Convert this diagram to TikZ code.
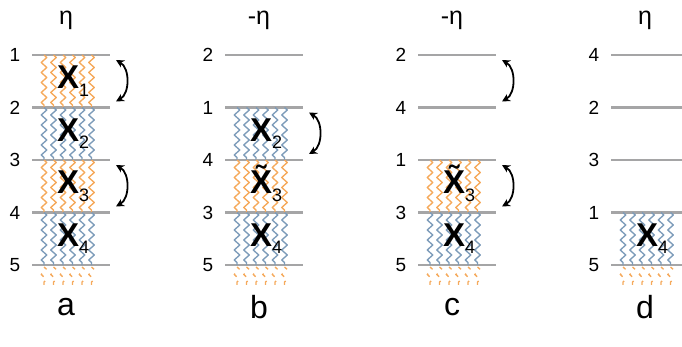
\documentclass[tikz,border=0pt]{standalone}
\usepackage{fontspec}
\setmainfont{Liberation Sans}
\usetikzlibrary{arrows.meta,decorations.pathmorphing}
\definecolor{wavyor}{HTML}{F5A95B}
\definecolor{wavybl}{HTML}{7C9BB9}
\definecolor{levgray}{HTML}{A5A5A6}

% one block of six wavy strands between two heights
\newcommand{\strands}[3]{%
  \foreach \dx in {0,9.5,...,48} \draw[wave,#3] (12+\dx,#1) -- (12+\dx,#2);}
% faded strands below the last level
\newcommand{\stubs}{%
  \foreach \dx in {0,9.5,...,48} \draw[stub] (12+\dx,267) -- (12+\dx,286);}
\newcommand{\xsub}[2]{\textbf{#1}\raisebox{-0.22em}{\fontsize{18}{18}\selectfont #2}}

\begin{document}
\begin{tikzpicture}[x=1pt, y=-1pt,
    level/.style={levgray, line width=2.8pt},
    wave/.style={line width=1.35pt, line join=round, decorate,
      decoration={zigzag, segment length=10pt, amplitude=2.8pt}},
    stub/.style={wave, wavyor, dash pattern=on 4.5pt off 6.5pt, dash phase=1pt},
    num/.style={inner sep=0pt, font=\fontsize{19}{19}\selectfont},
    eta/.style={inner sep=0pt, font=\fontsize{25}{25}\selectfont},
    panel/.style={inner sep=0pt, font=\fontsize{32}{32}\selectfont},
    xname/.style={inner sep=0pt, anchor=base west, font=\fontsize{33}{33}\selectfont},
    swap/.style={{Stealth[length=8pt,width=8pt]}-{Stealth[length=8pt,width=8pt]},
      line width=1.8pt, bend left=60}]
  \useasboundingbox (0,0) rectangle (682,347);

  % a
  \begin{scope}[shift={(32,0)}]
    \node[eta] (eta-a) at (34,20) {η};
    \foreach \n [count=\i] in {1,2,3,4,5} {
      \pgfmathsetmacro\yy{55+52.5*(\i-1)}
      \draw[level] (0,\yy) -- (78,\yy);
      \node[num] (a-\n) at (-17,\yy) {\n};
      \coordinate (ra-\i) at (84,\yy);
    }
    \strands{55}{107.5}{wavyor}
    \strands{107.5}{160}{wavybl}
    \strands{160}{212.5}{wavyor}
    \strands{212.5}{265}{wavybl}
    \stubs
    \node[xname] (x-a1) at (25,89) {\xsub{X}{1}};
    \node[xname] (x-a2) at (25,141.5) {\xsub{X}{2}};
    \node[xname] (x-a3) at (25,194) {\xsub{X}{3}};
    \node[xname] (x-a4) at (25,246.5) {\xsub{X}{4}};
    \draw[swap] ([yshift=-5pt]ra-1) to ([yshift=6pt]ra-2);
    \draw[swap] ([yshift=-5pt]ra-3) to ([yshift=6pt]ra-4);
    \node[panel] (lab-a) at (34,307) {a};
  \end{scope}

  % b
  \begin{scope}[shift={(225,0)}]
    \node[eta] (eta-b) at (34,20) {-η};
    \foreach \n [count=\i] in {2,1,4,3,5} {
      \pgfmathsetmacro\yy{55+52.5*(\i-1)}
      \draw[level] (0,\yy) -- (78,\yy);
      \node[num] (b-\n) at (-17,\yy) {\n};
      \coordinate (rb-\i) at (84,\yy);
    }
    \strands{107.5}{160}{wavybl}
    \strands{160}{212.5}{wavyor}
    \strands{212.5}{265}{wavybl}
    \stubs
    \node[xname] (x-b2) at (25,141.5) {\xsub{X}{2}};
    \node[xname] (x-b3) at (25,194) {\xsub{\~{X}}{3}};
    \node[xname] (x-b4) at (25,246.5) {\xsub{X}{4}};
    \draw[swap] ([yshift=-5pt]rb-2) to ([yshift=6pt]rb-3);
    \node[panel] (lab-b) at (34,307) {b};
  \end{scope}

  % c
  \begin{scope}[shift={(418,0)}]
    \node[eta] (eta-c) at (34,20) {-η};
    \foreach \n [count=\i] in {2,4,1,3,5} {
      \pgfmathsetmacro\yy{55+52.5*(\i-1)}
      \draw[level] (0,\yy) -- (78,\yy);
      \node[num] (c-\n) at (-17,\yy) {\n};
      \coordinate (rc-\i) at (84,\yy);
    }
    \strands{160}{212.5}{wavyor}
    \strands{212.5}{265}{wavybl}
    \stubs
    \node[xname] (x-c3) at (25,194) {\xsub{\~{X}}{3}};
    \node[xname] (x-c4) at (25,246.5) {\xsub{X}{4}};
    \draw[swap] ([yshift=-5pt]rc-1) to ([yshift=6pt]rc-2);
    \draw[swap] ([yshift=-5pt]rc-3) to ([yshift=6pt]rc-4);
    \node[panel] (lab-c) at (34,307) {c};
  \end{scope}

  % d
  \begin{scope}[shift={(611,0)}]
    \node[eta] (eta-d) at (34,20) {η};
    \foreach \n [count=\i] in {4,2,3,1,5} {
      \pgfmathsetmacro\yy{55+52.5*(\i-1)}
      \draw[level] (0,\yy) -- (78,\yy);
      \node[num] (d-\n) at (-17,\yy) {\n};
    }
    \strands{212.5}{265}{wavybl}
    \stubs
    \node[xname] (x-d4) at (25,246.5) {\xsub{X}{4}};
    \node[panel] (lab-d) at (34,307) {d};
  \end{scope}
\end{tikzpicture}
\end{document}
